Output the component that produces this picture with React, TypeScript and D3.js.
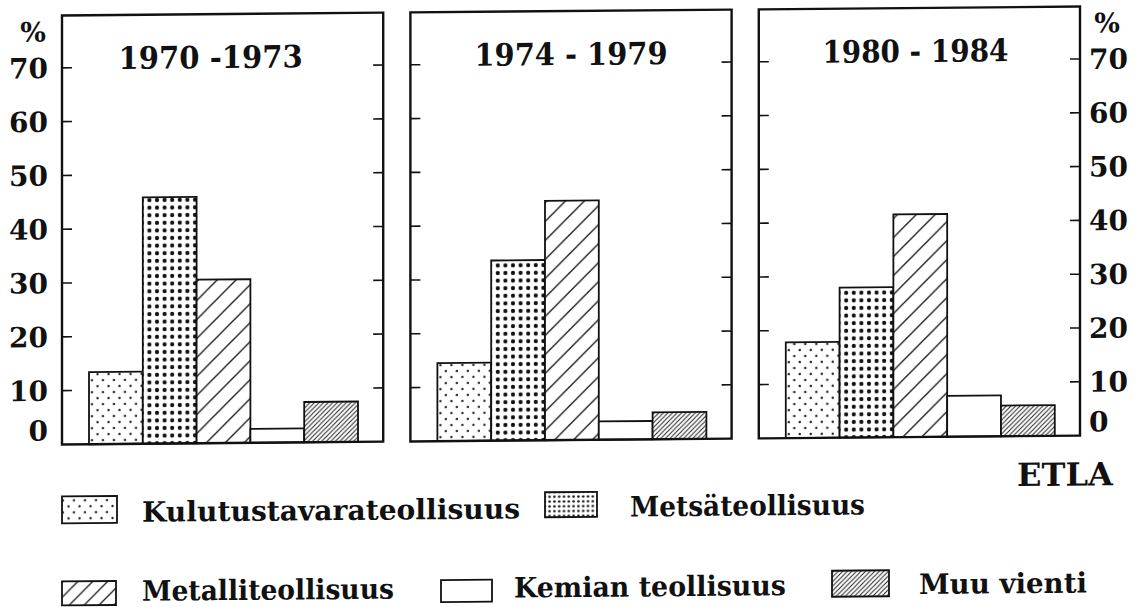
import React from 'react';
import * as d3 from 'd3';

// export shares by industry, per period (%)
const periods = ['1970 -1973', '1974 - 1979', '1980 - 1984'];
const industries = ['Kulutustavarateollisuus', 'Metsäteollisuus', 'Metalliteollisuus', 'Kemian teollisuus', 'Muu vienti'];
const share7073 = [13.4, 45.8, 30.4, 2.6, 7.5];
const share7479 = [14.5, 33.5, 44.5, 3.4, 5.0];
const share8084 = [17.8, 27.9, 41.4, 7.6, 5.7];
const yTicks = [0, 10, 20, 30, 40, 50, 60, 70];
const unitLabel = '%';
const sourceLabel = 'ETLA';

const W = 1137;
const H = 607;
const FONT = '"DejaVu Serif", serif';

const series = [share7073, share7479, share8084];
const fills = ['url(#p-kulutus)', 'url(#p-metsa)', 'url(#p-metalli)', '#fff', 'url(#p-muu)'];
const legendFills = ['url(#p-kulutus)', 'url(#p-metsa-s)', 'url(#p-metalli-s)', '#fff', 'url(#p-muu)'];

// legend placement (swatch box + label anchor and width)
const legendPos = [
  { x: 62, y: 497, w: 55, h: 27, tx: 142, ty: 523, tw: 378 },
  { x: 545, y: 497, w: 52, h: 25, tx: 630, ty: 522, tw: 235 },
  { x: 62, y: 582, w: 54, h: 24, tx: 142, ty: 602, tw: 252 },
  { x: 441, y: 584, w: 51, h: 22, tx: 514, ty: 602, tw: 272 },
  { x: 832, y: 578, w: 57, h: 26, tx: 919, ty: 602, tw: 168 },
];
const titleDx = [-12, 0, -4];
const titleW = [184, 193, 186];

const hatch = (s: number) =>
  `M0,${s} L${s},0 M${-s / 4},${s / 4} L${s / 4},${-s / 4} M${(3 * s) / 4},${(5 * s) / 4} L${(5 * s) / 4},${(3 * s) / 4}`;

export default function App() {
  const panelX = d3.scaleBand().domain(periods).range([62, 1080]).paddingInner(0.078);
  const y = d3.scaleLinear().domain([0, 70]).range([445, 68.4]);
  const pw = panelX.bandwidth();
  const barX = d3.scaleBand().domain(industries).range([27, 296]).padding(0);
  const frameTop = 16;
  const tickLen = 10;

  return (
    <svg width={W} height={H} style={{ position: 'absolute', left: 0, top: 0, background: '#fff' }}>
      <defs>
        <pattern id="p-kulutus" patternUnits="userSpaceOnUse" width={11} height={12}>
          <rect width={11} height={12} fill="#fff" />
          <circle cx={2.5} cy={3} r={1.2} fill="#222" />
          <circle cx={8} cy={9} r={1.2} fill="#222" />
        </pattern>
        <pattern id="p-metsa" patternUnits="userSpaceOnUse" width={7.6} height={7.6}>
          <rect width={7.6} height={7.6} fill="#fff" />
          <circle cx={3.8} cy={3.8} r={2.1} fill="#111" />
        </pattern>
        <pattern id="p-metsa-s" patternUnits="userSpaceOnUse" width={4.8} height={4.8}>
          <rect width={4.8} height={4.8} fill="#fff" />
          <circle cx={2.4} cy={2.4} r={1.25} fill="#111" />
        </pattern>
        <pattern id="p-metalli" patternUnits="userSpaceOnUse" width={19} height={19}>
          <rect width={19} height={19} fill="#fff" />
          <path d={hatch(19)} stroke="#222" strokeWidth={1.4} />
        </pattern>
        <pattern id="p-metalli-s" patternUnits="userSpaceOnUse" width={15} height={15}>
          <rect width={15} height={15} fill="#fff" />
          <path d={hatch(15)} stroke="#222" strokeWidth={1.3} />
        </pattern>
        <pattern id="p-muu" patternUnits="userSpaceOnUse" width={4.6} height={4.6}>
          <rect width={4.6} height={4.6} fill="#fff" />
          <path d={hatch(4.6)} stroke="#222" strokeWidth={1} />
        </pattern>
      </defs>
      <rect width={W} height={H} fill="#fff" />
      <g transform="skewY(-0.5)" fontFamily={FONT} fontWeight="bold" fill="#111">
        {periods.map((p, i) => {
          const x0 = panelX(p) as number;
          return (
            <g key={p} transform={`translate(${x0},0)`}>
              {series[i].map((v, j) => (
                <rect
                  key={j}
                  x={barX(industries[j])}
                  y={y(v)}
                  width={barX.bandwidth()}
                  height={y(0) - y(v)}
                  fill={fills[j]}
                  stroke="#111"
                  strokeWidth={1.8}
                />
              ))}
              <rect x={0} y={frameTop} width={pw} height={y(0) - frameTop} fill="none" stroke="#111" strokeWidth={2.4} />
              {yTicks.filter((t) => t > 0).map((t) => (
                <g key={t} stroke="#111" strokeWidth={1.6}>
                  <line x1={0} x2={tickLen} y1={y(t)} y2={y(t)} />
                  <line x1={pw - tickLen} x2={pw} y1={y(t)} y2={y(t)} />
                </g>
              ))}
              <text
                x={pw / 2 + titleDx[i]}
                y={70}
                textAnchor="middle"
                fontSize={31}
                textLength={titleW[i]}
                lengthAdjust="spacingAndGlyphs"
              >
                {p}
              </text>
            </g>
          );
        })}

        {/* left and right value axes */}
        {yTicks.map((t) => {
          const yy = t === 0 ? y(0) - 14 : y(t);
          const xl = (panelX(periods[0]) as number) - 14;
          const xr = (panelX(periods[2]) as number) + pw + 9;
          return (
            <g key={t} fontSize={28}>
              <text x={xl} y={yy} dy="0.36em" textAnchor="end">{t}</text>
              <text x={xr} y={yy} dy="0.36em" textAnchor="start">{t}</text>
            </g>
          );
        })}
        <text x={33} y={42} textAnchor="middle" fontSize={27}>{unitLabel}</text>
        <text x={1107} y={42} textAnchor="middle" fontSize={27}>{unitLabel}</text>

        <text x={1113} y={495} textAnchor="end" fontSize={32} textLength={96} lengthAdjust="spacingAndGlyphs">
          {sourceLabel}
        </text>

        {industries.map((name, j) => {
          const l = legendPos[j];
          return (
            <g key={name}>
              <rect x={l.x} y={l.y} width={l.w} height={l.h} fill={legendFills[j]} stroke="#111" strokeWidth={1.8} />
              <text x={l.tx} y={l.ty} fontSize={28} textLength={l.tw} lengthAdjust="spacingAndGlyphs">
                {name}
              </text>
            </g>
          );
        })}
      </g>
    </svg>
  );
}
